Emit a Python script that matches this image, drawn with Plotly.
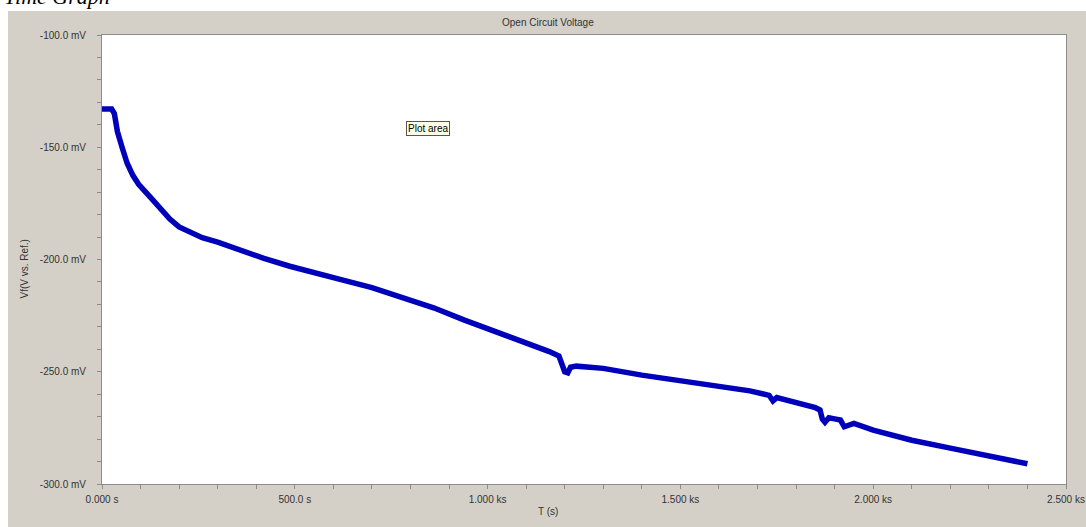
import plotly.graph_objects as go

# ---- data ----
time_s = [0, 25, 32, 40, 52, 65, 80, 95, 124, 150, 176, 200, 228, 260, 300, 358, 420, 487,
          550, 620, 700, 780, 860, 940, 1020, 1100, 1160, 1185, 1192, 1200, 1208, 1215, 1230,
          1300, 1400, 1500, 1600, 1680, 1730, 1740, 1750, 1800, 1850, 1862, 1868, 1875,
          1885, 1900, 1915, 1925, 1935, 1950, 2000, 2100, 2200, 2300, 2400]
voltage_mV = [-133, -133, -135, -143, -150, -157, -162.5, -166.5, -172, -177, -182, -185.5, -188,
              -190.3, -192.3, -196, -199.5, -203, -206, -209, -212.5, -217, -221.5, -227, -232,
              -237, -241, -243, -246, -250, -250.5, -248, -247.5, -248.5, -251.5, -254, -256.5,
              -258.5, -260.5, -263, -261.5, -263.5, -266, -267, -271, -272.5, -270.5, -271,
              -271.5, -274.5, -274, -273, -276, -280.5, -284, -287.5, -291]

x_tick_vals = [0, 500, 1000, 1500, 2000, 2500]
x_tick_text = ["0.000 s", "500.0 s", "1.000 ks", "1.500 ks", "2.000 ks", "2.500 ks"]
y_tick_vals = [-300, -250, -200, -150, -100]
y_tick_text = ["-300.0 mV", "-250.0 mV", "-200.0 mV", "-150.0 mV", "-100.0 mV"]

W, H = 1086, 527
L, R, T, B = 102, 1066, 35, 484
pw, ph = R - L, B - T


def px(x):
    return (x - L) / pw


def py(y):
    return (B - y) / ph


GRAY = "#d4d0c8"
FONT = "Liberation Sans, Arial, sans-serif"

fig = go.Figure()
fig.add_trace(go.Scatter(x=time_s, y=voltage_mV, mode="lines",
                         line=dict(color="#0000bb", width=5.5), hoverinfo="skip",
                         showlegend=False))

fig.update_layout(
    width=W, height=H,
    margin=dict(l=L, r=W - R, t=T, b=H - B, pad=0, autoexpand=False),
    paper_bgcolor=GRAY, plot_bgcolor="white",
    font=dict(family=FONT, size=10, color="#333333"),
    xaxis=dict(range=[0, 2500], tickvals=x_tick_vals, ticktext=x_tick_text,
               ticks="outside", ticklen=4, tickcolor="#8c8c8c", automargin=False,
               minor=dict(dtick=100, ticks="outside", ticklen=4, tickcolor="#8c8c8c"),
               showgrid=False, zeroline=False, showline=True, mirror=True,
               linecolor="#8c8c8c", linewidth=1, ticklabelstandoff=2),
    yaxis=dict(range=[-300, -100], tickvals=y_tick_vals, ticktext=y_tick_text,
               ticks="outside", ticklen=4, tickcolor="#8c8c8c", automargin=False,
               minor=dict(dtick=10, ticks="outside", ticklen=4, tickcolor="#8c8c8c"),
               showgrid=False, zeroline=False, showline=True, mirror=True,
               linecolor="#8c8c8c", linewidth=1, ticklabelstandoff=9),
    shapes=[
        dict(type="rect", xref="paper", yref="paper", x0=px(-5), x1=px(W + 5),
             y0=py(11), y1=py(-5), fillcolor="white", line=dict(width=0), layer="below"),
        dict(type="rect", xref="paper", yref="paper", x0=px(-5), x1=px(8),
             y0=py(H + 5), y1=py(-5), fillcolor="white", line=dict(width=0), layer="below"),
    ],
    annotations=[
        dict(text="Open Circuit Voltage", xref="paper", yref="paper", x=px(548), y=py(15),
             showarrow=False, font=dict(size=10, color="#333333")),
        dict(text="T (s)", xref="paper", yref="paper", x=px(548), y=py(519),
             showarrow=False, font=dict(size=10, color="#333333")),
        dict(text="Vf(V vs. Ref.)", xref="paper", yref="paper", x=px(16), y=py(269),
             showarrow=False, textangle=-90, font=dict(size=10, color="#333333")),
        dict(text="Plot area", xref="paper", yref="paper", x=px(428), y=py(129),
             yanchor="middle", showarrow=False, bgcolor="#ffffe6", bordercolor="#555555",
             borderwidth=1, borderpad=1, font=dict(size=10, color="#000000")),
        dict(text="<i>Time Graph</i>", xref="paper", yref="paper", x=px(112), y=py(11),
             xanchor="right", yanchor="bottom", showarrow=False,
             font=dict(family="Liberation Serif, Times New Roman, serif", size=22,
                       color="#000000")),
    ],
)

fig.write_html("out.html")
